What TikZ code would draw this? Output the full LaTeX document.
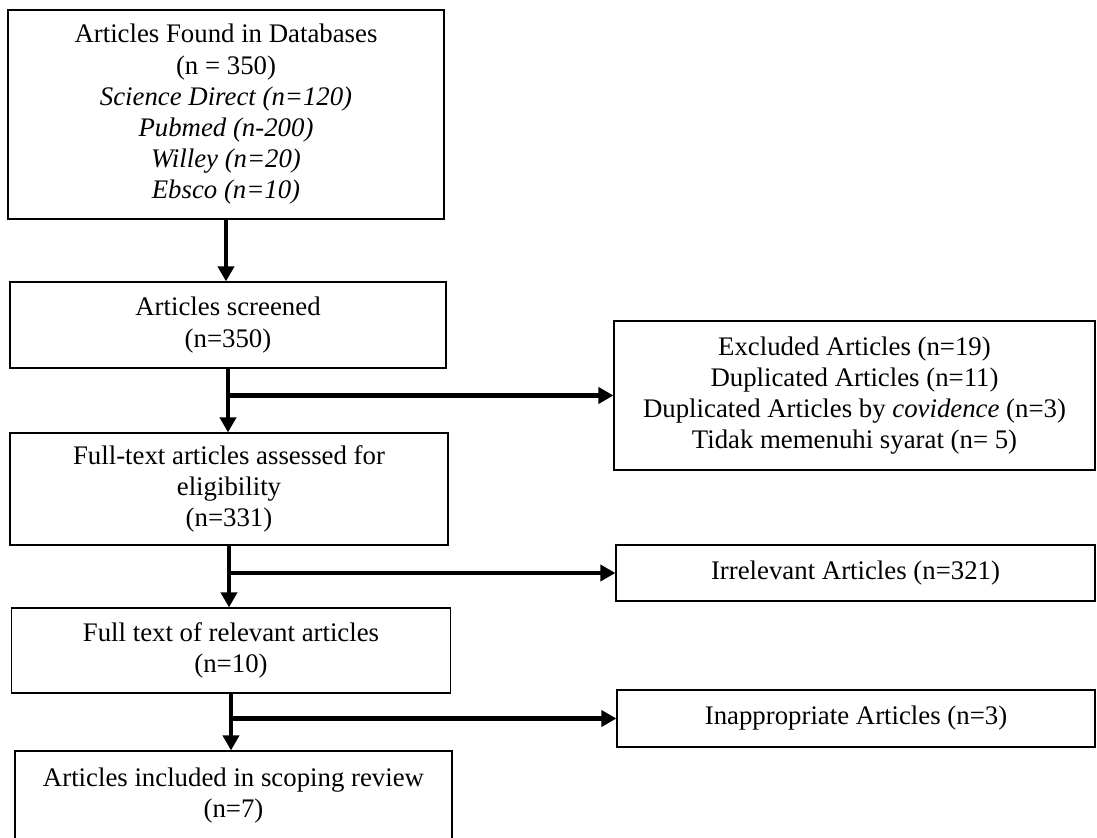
\documentclass[tikz,border=0pt]{standalone}
\usepackage{fontspec}
\setmainfont{Liberation Serif}
\usetikzlibrary{arrows.meta}
\begin{document}
\begin{tikzpicture}[x=0.5pt,y=-0.5pt,
  onebox/.style={draw, line width=0.6pt, rectangle, align=center, inner sep=0pt,
    font=\fontsize{13.4}{15.6}\selectfont},
  box/.style={onebox, execute at begin node={\rule{0pt}{14.6pt}}},
  arr/.style={line width=2.3pt, -{Triangle[length=7.5pt,width=8pt]}}]
\useasboundingbox[fill=white] (0,0) rectangle (1097,838);
\node[box, minimum width=218pt, minimum height=104.5pt] (b1) at (226,114.5)
  {Articles Found in Databases\\(n = 350)\\\textit{Science Direct (n=120)}\\\textit{Pubmed (n-200)}\\\textit{Willey (n=20)}\\\textit{Ebsco (n=10)}};
\node[box, minimum width=218pt, minimum height=43pt] (b2) at (228,325)
  {Articles screened\\(n=350)};
\node[box, minimum width=219pt, minimum height=56pt] (b3) at (229,489)
  {Full-text articles assessed for\\eligibility\\(n=331)};
\node[box, minimum width=219.5pt, minimum height=42.5pt] (b4) at (231,650.5)
  {Full text of relevant articles\\(n=10)};
\node[box, minimum width=218.5pt, minimum height=44.5pt] (b5) at (233.5,795.5)
  {Articles included in scoping review\\(n=7)};
\node[box, minimum width=240.5pt, minimum height=74.5pt] (ex) at (854.5,395.5)
  {Excluded Articles (n=19)\\Duplicated Articles (n=11)\\Duplicated Articles by \textit{covidence} (n=3)\\Tidak memenuhi syarat (n= 5)};
\node[onebox, minimum width=239.5pt, minimum height=28pt] (ir) at (855.5,573)
  {Irrelevant Articles (n=321)};
\node[onebox, minimum width=239pt, minimum height=28.5pt] (ia) at (856,718.5)
  {Inappropriate Articles (n=3)};
\draw[arr] (b1.south) -- (b1.south |- b2.north);
\draw[arr] (b2.south) -- (b2.south |- b3.north);
\draw[arr] (b2.south |- ex.west) -- (ex.west);
\draw[arr] (b3.south) -- (b3.south |- b4.north);
\draw[arr] (b3.south |- ir.west) -- (ir.west);
\draw[arr] (b4.south) -- (b4.south |- b5.north);
\draw[arr] (b4.south |- ia.west) -- (ia.west);
\end{tikzpicture}
\end{document}
